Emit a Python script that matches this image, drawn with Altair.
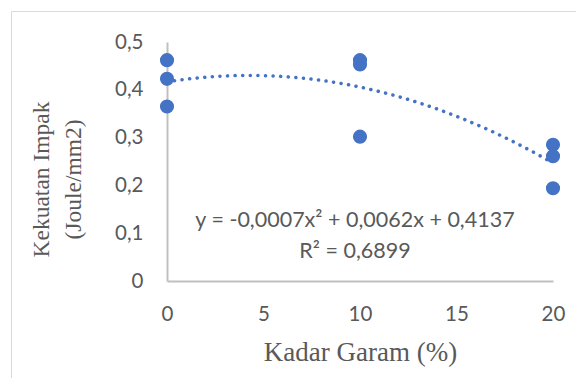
import altair as alt
import pandas as pd

kadar_garam = [0, 0, 0, 10, 10, 10, 20, 20, 20]
kekuatan = [0.462, 0.423, 0.365, 0.462, 0.453, 0.302, 0.285, 0.261, 0.194]
equation_lines = ["y = -0,0007x² + 0,0062x + 0,4137", "R² = 0,6899"]
y_title = ["Kekuatan Impak", "(Joule/mm2)"]
x_title = "Kadar Garam (%)"
x_ticks = [0, 5, 10, 15, 20]
y_ticks = [0, 0.1, 0.2, 0.3, 0.4, 0.5]

df = pd.DataFrame({"x": kadar_garam, "y": kekuatan})

GRAY = "#595959"
BLUE = "#4472C4"

xscale = alt.Scale(domain=[0, 20], nice=False, zero=False)
yscale = alt.Scale(domain=[0, 0.5], nice=False)

xaxis = alt.Axis(
    values=x_ticks, format="d", grid=False, ticks=False, tickSize=0,
    labelFlush=False, labelOverlap=False,
    labelPadding=39, labelFont="Lato", labelFontSize=20.5, labelColor=GRAY,
    labelBaseline="alphabetic",
    domainColor="#c0c0c0", domainWidth=2,
    title=x_title, titleFont="Liberation Serif", titleFontSize=27,
    titleFontWeight="normal", titleColor=GRAY, titleY=79, titleBaseline="alphabetic",
)
yaxis = alt.Axis(
    values=y_ticks, grid=False, ticks=False, tickSize=0,
    labelFlush=False, labelOverlap=False,
    labelExpr="datum.value == 0 ? '0' : replace(format(datum.value, '.1f'), '.', ',')",
    labelPadding=24, labelFont="Lato", labelFontSize=20.5, labelColor=GRAY,
    domainColor="#c0c0c0", domainWidth=2,
    title=y_title, titleFont="Liberation Serif", titleFontSize=23.5,
    titleFontWeight="normal", titleColor=GRAY, titleLineHeight=32,
    titleX=-126, titleY=137, titleBaseline="middle", titleAngle=270,
)

base = alt.Chart(df)

points = base.mark_circle(size=200, opacity=1, color=BLUE).encode(
    x=alt.X("x:Q", scale=xscale, axis=xaxis),
    y=alt.Y("y:Q", scale=yscale, axis=yaxis),
)

trend = base.transform_regression(
    "x", "y", method="poly", order=2, extent=[0, 20]
).mark_line(
    color=BLUE, strokeWidth=3.5, strokeDash=[0.1, 7.5], strokeCap="round"
).encode(
    x=alt.X("x:Q", scale=xscale),
    y=alt.Y("y:Q", scale=yscale),
)

ann = alt.Chart(pd.DataFrame({"t": [equation_lines]})).mark_text(
    font="Lato", fontSize=21.5, color=GRAY, align="center", baseline="alphabetic",
    lineHeight=31,
).encode(
    x=alt.value(188), y=alt.value(185), text="t"
)

frame = alt.Chart(pd.DataFrame({"a": [0]})).mark_rect(
    fill="white", fillOpacity=0, stroke="#d9d9d9", strokeWidth=1
).encode(
    x=alt.value(-155.5), x2=alt.value(700), y=alt.value(-30.5), y2=alt.value(600)
)

chart = alt.layer(frame, trend, points, ann).properties(
    width=386, height=239,
    autosize=alt.AutoSizeParams(type="none"),
    padding={"left": 159, "top": 34, "right": 23, "bottom": 97},
).configure_view(stroke=None)

chart.save("out.html", embed_options={"renderer": "svg", "actions": False})
